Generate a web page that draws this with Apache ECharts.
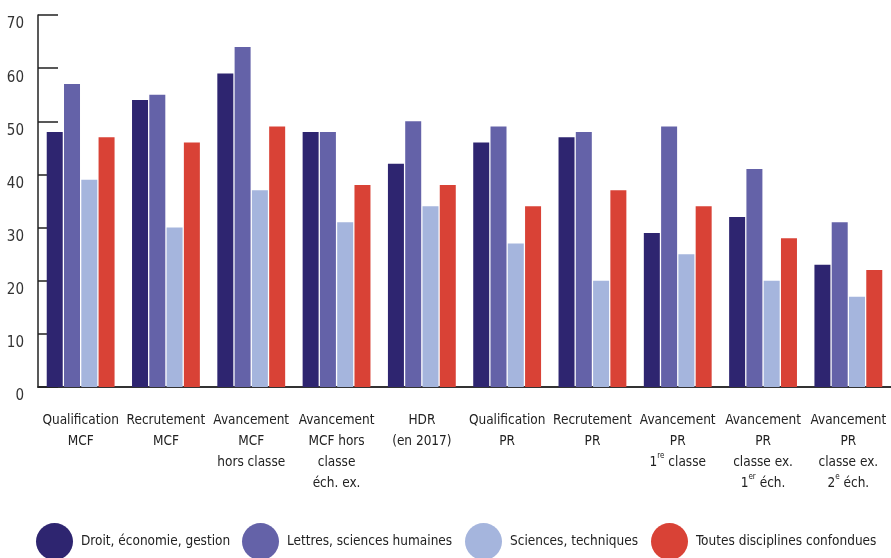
<!DOCTYPE html>
<html><head><meta charset="utf-8">
<script src="https://cdn.jsdelivr.net/npm/echarts@6/dist/echarts.min.js"></script>
<style>html,body{margin:0;padding:0;background:#fff}#c{width:891px;height:558px}</style>
</head><body><div id="c"></div>
<script>
const categories = [
  "Qualification\nMCF",
  "Recrutement\nMCF",
  "Avancement\nMCF\nhors classe",
  "Avancement\nMCF hors\nclasse\néch. ex.",
  "HDR\n(en 2017)",
  "Qualification\nPR",
  "Recrutement\nPR",
  "Avancement\nPR\n1{sup|re} classe",
  "Avancement\nPR\nclasse ex.\n1{sup|er} éch.",
  "Avancement\nPR\nclasse ex.\n2{sup|e} éch."
];
const seriesNames = ["Droit, économie, gestion", "Lettres, sciences humaines", "Sciences, techniques", "Toutes disciplines confondues"];
const droit   = [48, 54, 59, 48, 42, 46, 47, 29, 32, 23];
const lettres = [57, 55, 64, 48, 50, 49, 48, 49, 41, 31];
const sciences= [39, 30, 37, 31, 34, 27, 20, 25, 20, 17];
const toutes  = [47, 46, 49, 38, 38, 34, 37, 34, 28, 22];
const yTicks = [0, 10, 20, 30, 40, 50, 60, 70];

const colors = ["#2e2570", "#6462a8", "#a5b5dd", "#d94236"];
const FONT = "'DejaVu Sans Condensed', 'Liberation Sans Narrow', sans-serif";
const values = [droit, lettres, sciences, toutes];
const legendLeft = [36, 242, 465, 651];

const chart = echarts.init(document.getElementById('c'), null, {renderer: 'canvas'});
chart.setOption({
  animation: false,
  color: colors,
  grid: {left: 38, right: 0, top: 15, bottom: 171, containLabel: false},
  legend: seriesNames.map((n, i) => ({
    data: [n], left: legendLeft[i], top: 523, padding: 0,
    icon: 'circle', itemWidth: 37, itemHeight: 37,
    textStyle: {fontFamily: FONT, fontSize: 13.5, color: '#222', padding: [0, 0, 0, 3]}
  })),
  xAxis: {
    type: 'category', data: categories,
    axisLine: {lineStyle: {color: '#333', width: 2}},
    axisTick: {inside: true, length: 10, lineStyle: {color: '#111', width: 1.5}},
    axisLabel: {
      interval: 0, margin: 23, fontFamily: FONT, fontSize: 13.5, color: '#222', lineHeight: 21,
      formatter: v => v,
      rich: {sup: {fontFamily: FONT, fontSize: 8, lineHeight: 21, verticalAlign: 'top', color: '#222'}}
    }
  },
  yAxis: {
    type: 'value', min: yTicks[0], max: yTicks[yTicks.length - 1], interval: 10,
    axisLine: {show: true, lineStyle: {color: '#222', width: 1.5}},
    axisTick: {show: true, inside: true, length: 20, lineStyle: {color: '#222', width: 1.5}},
    splitLine: {show: false},
    axisLabel: {fontFamily: FONT, fontSize: 15, color: '#333', margin: 14, verticalAlign: 'top', padding: [2, 0, 0, 0]}
  },
  series: seriesNames.map((n, i) => ({
    name: n, type: 'bar', data: values[i], barWidth: 16, barGap: '8%'
  }))
});
</script></body></html>
